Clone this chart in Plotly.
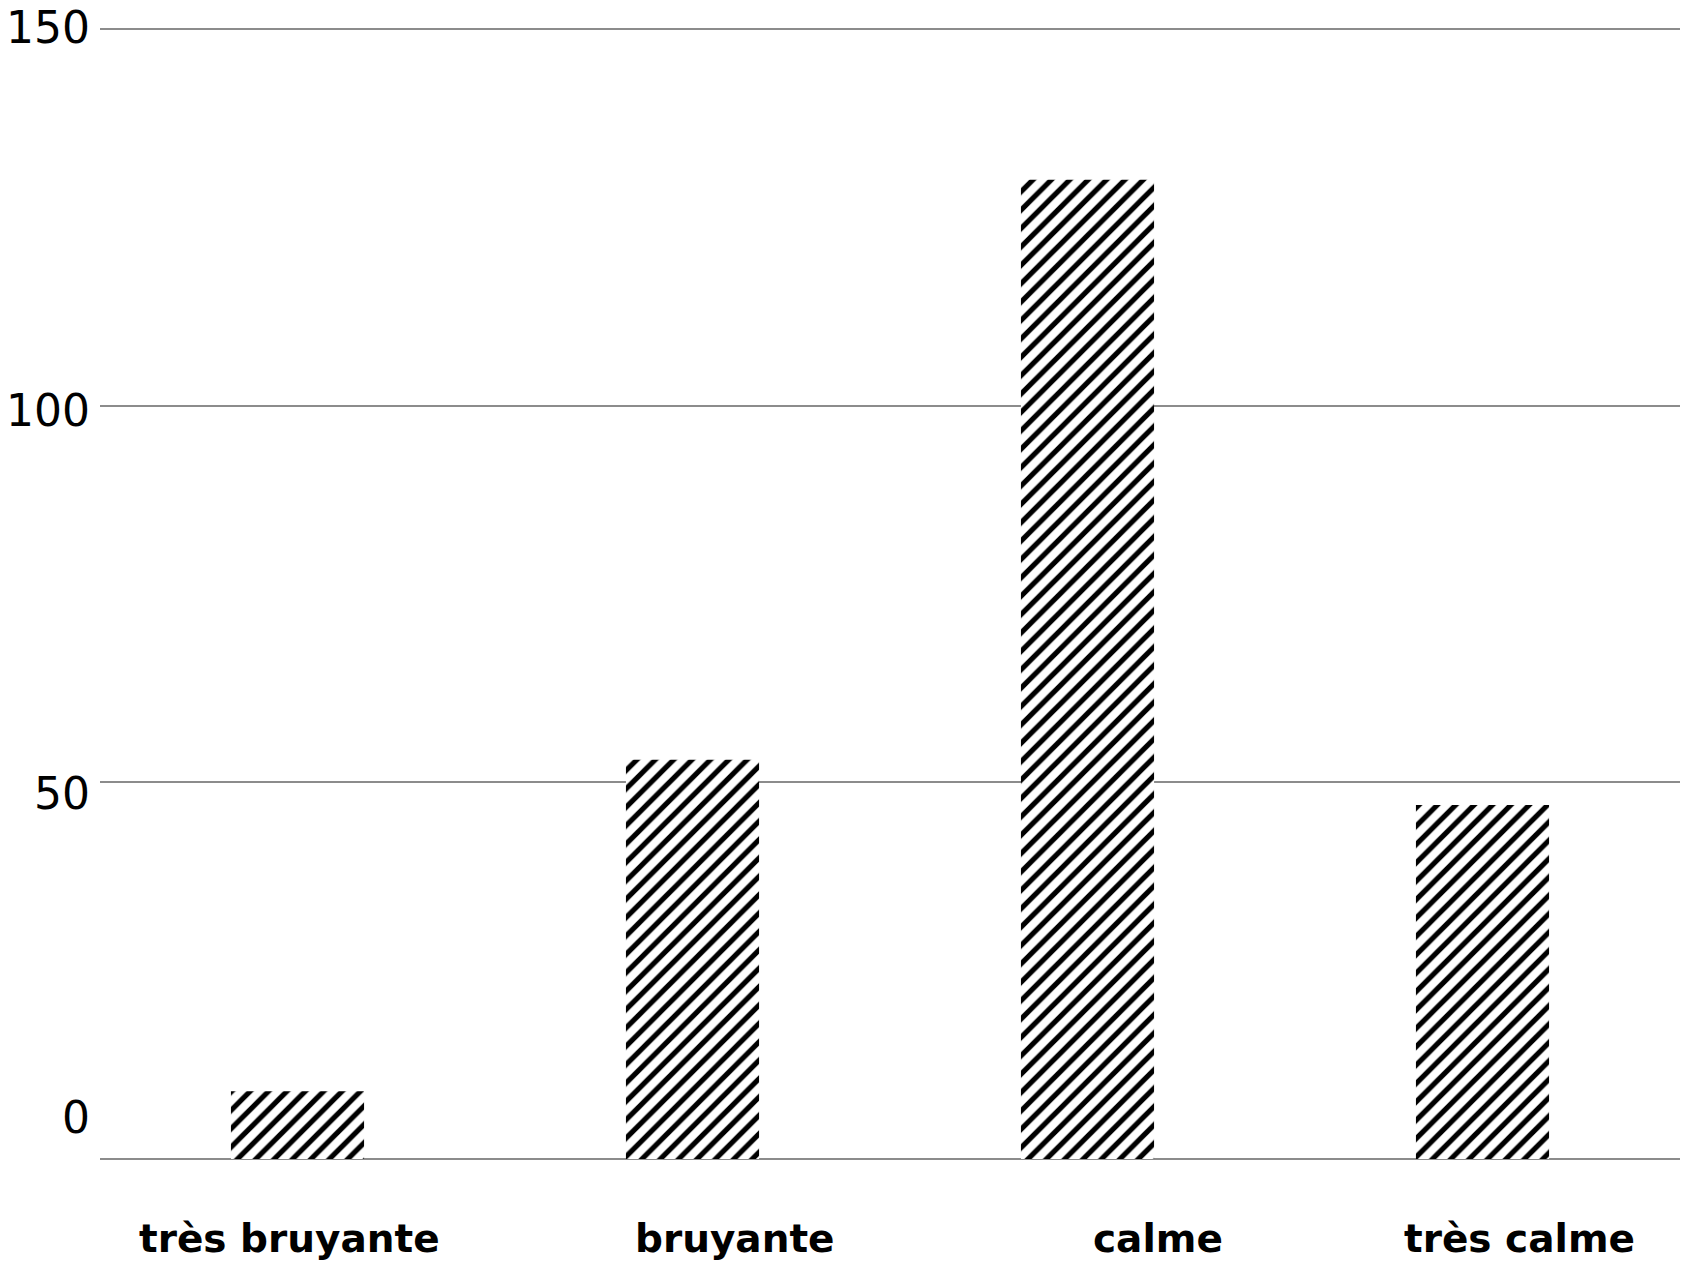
import plotly.graph_objects as go

categories = ["très bruyante", "bruyante", "calme", "très calme"]
values = [9, 53, 130, 47]
y_ticks = [0, 50, 100, 150]
y_tick_labels = ["0", "50", "100", "150"]

# style offsets (pixels) for labels
cat_label_xshift = [-8, 42, 70, 37]
y_label_yshift = [42, -11, -5, 2]

FONT = "DejaVu Sans"

fig = go.Figure()
fig.add_trace(go.Bar(
    x=categories, y=values,
    marker=dict(color="white", line=dict(width=0),
                pattern=dict(shape="/", fgcolor="black", bgcolor="white", fgopacity=1,
                             size=13, solidity=0.4)),
))

annotations = []
for c, s in zip(categories, cat_label_xshift):
    annotations.append(dict(x=c, y=0, xref="x", yref="y", text=c, showarrow=False,
                            xanchor="center", yanchor="middle", xshift=s, yshift=-79,
                            font=dict(family=FONT, size=39, color="black", weight="bold")))
for v, t, s in zip(y_ticks, y_tick_labels, y_label_yshift):
    annotations.append(dict(x=0, y=v, xref="paper", yref="y", text=t, showarrow=False,
                            xanchor="right", yanchor="middle", xshift=-8, yshift=s,
                            font=dict(family=FONT, size=44, color="black")))

fig.update_layout(
    width=1683, height=1263,
    margin=dict(l=100, r=3, t=28, b=104),
    plot_bgcolor="white", paper_bgcolor="white",
    bargap=0.663, showlegend=False,
    xaxis=dict(showticklabels=False, showgrid=False, zeroline=False, showline=False, ticks=""),
    yaxis=dict(range=[0, 150.15], tickvals=y_ticks, showticklabels=False,
               showgrid=True, gridcolor="#8c8c8c", gridwidth=2,
               zeroline=True, zerolinecolor="#8c8c8c", zerolinewidth=2, showline=False),
    annotations=annotations,
)
fig.write_html("out.html", config={"displayModeBar": False},
               post_script="document.body.style.margin='0';document.body.style.overflow='hidden';")
